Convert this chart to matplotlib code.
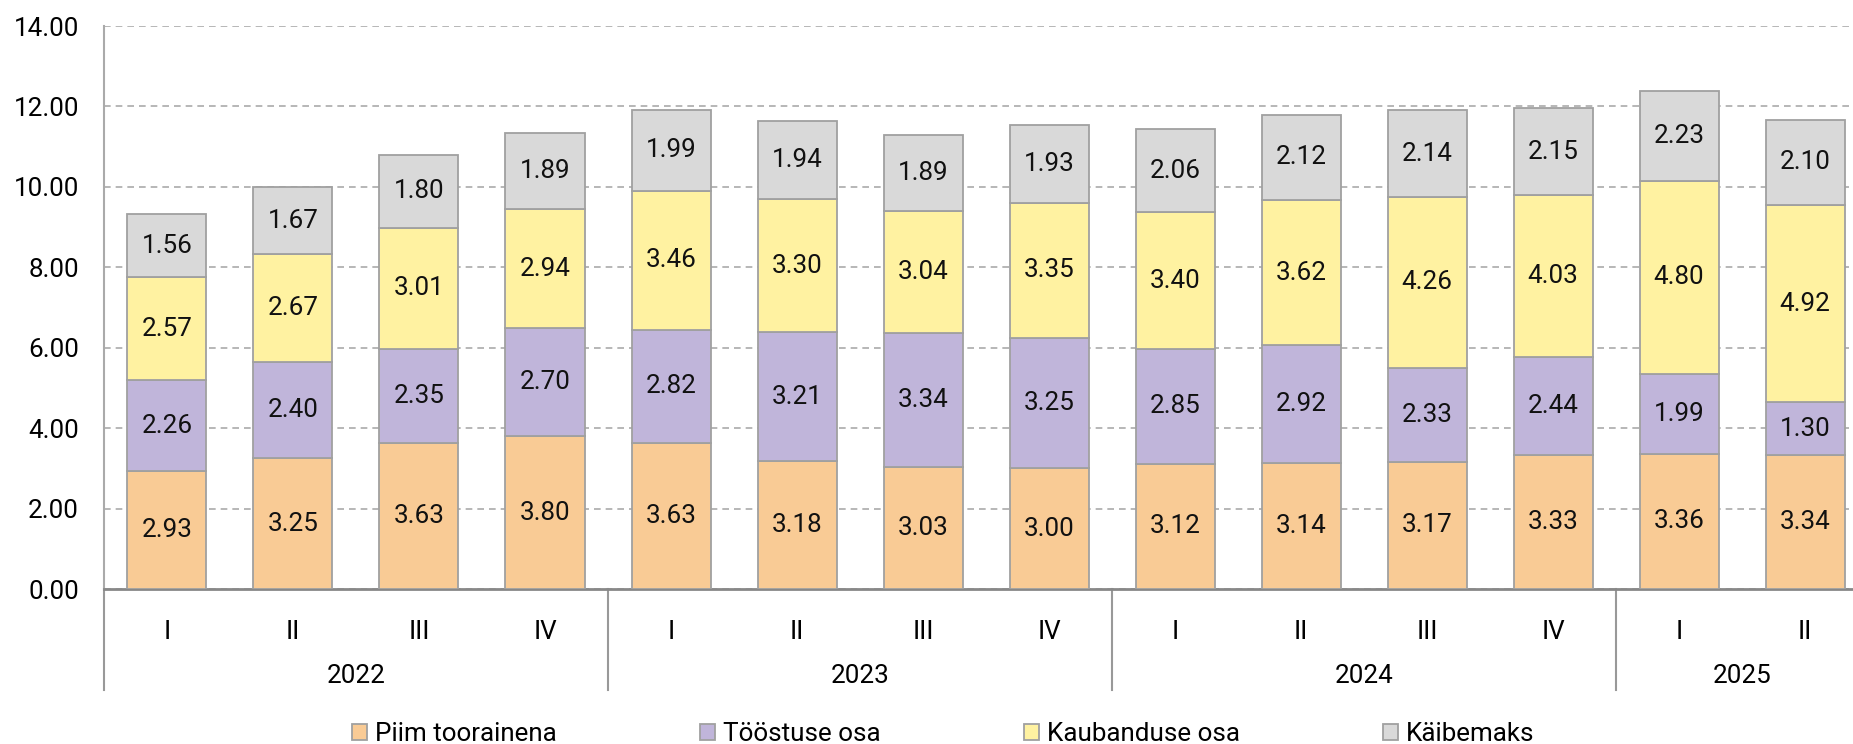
import matplotlib
matplotlib.use('Agg')
import matplotlib.pyplot as plt
import numpy as np

plt.rcParams['font.family'] = ['Roboto', 'DejaVu Sans']

quarters = ['I', 'II', 'III', 'IV'] * 3 + ['I', 'II']
years = ['2022', '2023', '2024', '2025']
piim = [2.93, 3.25, 3.63, 3.80, 3.63, 3.18, 3.03, 3.00, 3.12, 3.14, 3.17, 3.33, 3.36, 3.34]
toostus = [2.26, 2.40, 2.35, 2.70, 2.82, 3.21, 3.34, 3.25, 2.85, 2.92, 2.33, 2.44, 1.99, 1.30]
kaubandus = [2.57, 2.67, 3.01, 2.94, 3.46, 3.30, 3.04, 3.35, 3.40, 3.62, 4.26, 4.03, 4.80, 4.92]
kaibemaks = [1.56, 1.67, 1.80, 1.89, 1.99, 1.94, 1.89, 1.93, 2.06, 2.12, 2.14, 2.15, 2.23, 2.10]

series = [('Piim toorainena', piim, '#F9CB95'),
          ('Tööstuse osa', toostus, '#C0B5DA'),
          ('Kaubanduse osa', kaubandus, '#FFF2A1'),
          ('Käibemaks', kaibemaks, '#D9D9D9')]

fs = 18.7

fig = plt.figure(figsize=(18.53, 7.44), dpi=100)
ax = fig.add_axes([0.0561, 0.2083, 0.9439, 0.7567])

x = np.arange(len(quarters))
bottom = np.zeros(len(quarters))
for name, vals, col in series:
    bars = ax.bar(x, vals, 0.627, bottom=bottom, color=col, edgecolor='#A0A0A0',
                  linewidth=1.3, label=name, zorder=3)
    ax.bar_label(bars, labels=['%.2f' % v for v in vals], label_type='center',
                 fontsize=fs, color='#111111')
    bottom += np.array(vals)

ax.set_ylim(0, 14)
ax.set_yticks(np.arange(0, 15, 2))
ax.set_yticklabels(['%.2f' % v for v in np.arange(0, 15, 2)])
ax.set_xlim(-0.5, 13.38)
ax.yaxis.grid(True, linestyle=(0, (4, 3)), color='#AAAAAA', linewidth=1.2)
ax.set_axisbelow(True)
ax.tick_params(axis='y', length=0, pad=18, labelsize=fs)
ax.tick_params(axis='x', length=0, pad=22, labelsize=fs)
ax.set_xticks(x)
ax.set_xticklabels(quarters)

for s in ['top', 'right']:
    ax.spines[s].set_visible(False)
ax.spines['left'].set_color('#AAAAAA')
ax.spines['left'].set_linewidth(1.5)
ax.spines['bottom'].set_color('#888888')
ax.spines['bottom'].set_linewidth(2)

# year groups under the quarter labels
trans = ax.get_xaxis_transform()
for i, yr in enumerate(years):
    start = i * 4 - 0.5
    ax.plot([start, start], [0, -0.18], transform=trans, color='#999999',
            linewidth=1.5, clip_on=False)
    n = min(4, len(quarters) - i * 4)
    ax.text(i * 4 - 0.5 + n / 2, -0.155, yr, transform=trans, ha='center',
            va='center', fontsize=fs)

fig.legend(loc='center', bbox_to_anchor=(0.509, 0.013), ncol=4, frameon=False,
           fontsize=fs, handlelength=0.6, handleheight=0.6, handletextpad=0.3,
           columnspacing=5.5)

fig.savefig('out.png', dpi=100)
